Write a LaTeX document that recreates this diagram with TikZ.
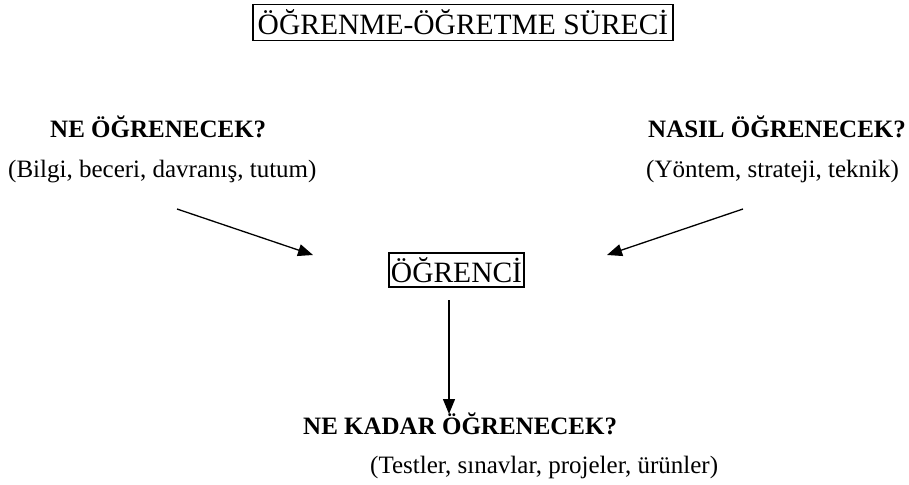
\documentclass[tikz,border=0pt]{standalone}
\usepackage{fontspec}
\setmainfont{Liberation Serif}
\usetikzlibrary{arrows.meta}

\begin{document}
\begin{tikzpicture}[x=1pt,y=-1pt,
  framed/.style={draw,line width=1.2pt,inner sep=0pt,font=\fontsize{29.5}{30}\selectfont},
  question/.style={anchor=base west,inner sep=0pt,font=\fontsize{25}{26}\selectfont\bfseries},
  detail/.style={anchor=base west,inner sep=0pt,font=\fontsize{25}{26}\selectfont},
  link/.style={line width=1.3pt,-{Triangle[length=15pt,width=12pt]}}]
  \useasboundingbox (0,0) rectangle (909,484);

  % heading
  \node[framed,minimum width=420pt,minimum height=36pt] (title) at (463,22.5) {ÖĞRENME-ÖĞRETME SÜRECİ};

  % the three questions with their details
  \node[question] (what) at (50,137) {NE ÖĞRENECEK?};
  \node[detail] (whatd) at (8,177) {(Bilgi, beceri, davranış, tutum)};
  \node[question] (how) at (648,137) {NASIL ÖĞRENECEK?};
  \node[detail] (howd) at (646,177) {(Yöntem, strateji, teknik)};
  \node[question] (much) at (303,434) {NE KADAR ÖĞRENECEK?};
  \node[detail] (muchd) at (370,473) {(Testler, sınavlar, projeler, ürünler)};

  % learner in the middle
  \node[framed,minimum width=135pt,minimum height=34pt] (learner) at (456.5,270) {ÖĞRENCİ};

  % arrow end points
  \coordinate (a1s) at (177,209);
  \coordinate (a1e) at (313,255);
  \coordinate (a2s) at (743,209);
  \coordinate (a2e) at (607,255);
  \coordinate (a3s) at (449,300);
  \coordinate (a3e) at (449,414);

  \draw[link] (a1s) -- (a1e);
  \draw[link] (a2s) -- (a2e);
  \draw[link] (a3s) -- (a3e);
\end{tikzpicture}
\end{document}
